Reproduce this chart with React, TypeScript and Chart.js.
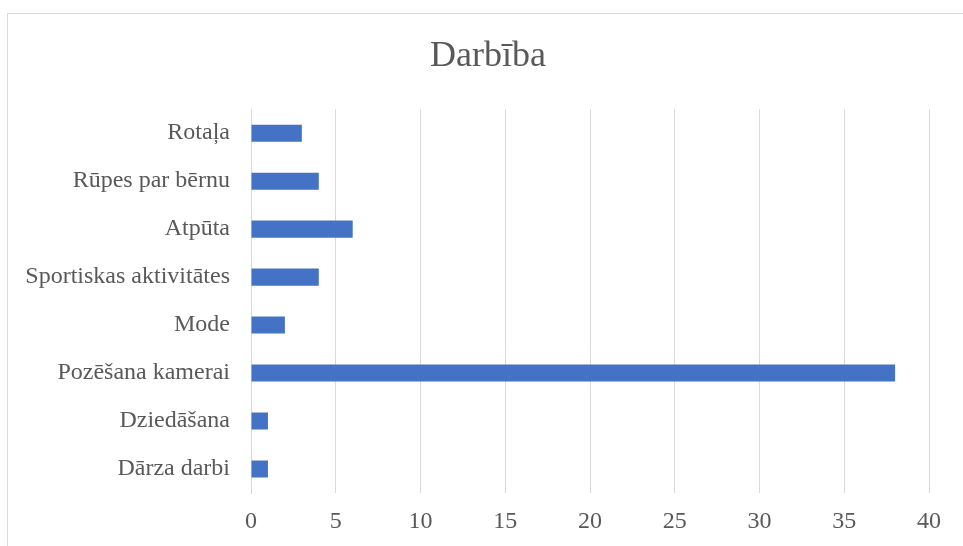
import React, { useEffect, useRef } from "react";
import { Chart, registerables } from "chart.js";

Chart.register(...registerables);

const categories = [
  "Rotaļa",
  "Rūpes par bērnu",
  "Atpūta",
  "Sportiskas aktivitātes",
  "Mode",
  "Pozēšana kamerai",
  "Dziedāšana",
  "Dārza darbi",
];
const values = [3, 4, 6, 4, 2, 38, 1, 1];
const xMin = 0;
const xMax = 40;
const xStep = 5;
const titleText = "Darbība";

const FONT = '"Liberation Serif", "Times New Roman", Times, serif';
const TEXT = "#595959";
const GRID = "#d9d9d9";

export default function App() {
  const ref = useRef<HTMLCanvasElement | null>(null);

  useEffect(() => {
    if (!ref.current) return;
    const chart = new Chart(ref.current, {
      type: "bar",
      data: {
        labels: categories,
        datasets: [
          {
            label: titleText,
            data: values,
            backgroundColor: "#4472C4",
            borderWidth: 0,
            barPercentage: 0.355,
            categoryPercentage: 1,
            yAxisID: "y",
          },
        ],
      },
      options: {
        indexAxis: "y",
        responsive: false,
        animation: false,
        layout: { padding: 0 },
        plugins: {
          legend: { display: false },
          tooltip: { enabled: false },
          title: {
            display: true,
            text: titleText,
            color: TEXT,
            font: { family: FONT, size: 36, weight: "normal", lineHeight: 1.2 },
            padding: { top: 21, bottom: 31 },
          },
        },
        scales: {
          x: {
            min: xMin,
            max: xMax,
            ticks: {
              stepSize: xStep,
              color: TEXT,
              font: { family: FONT, size: 24 },
              padding: 14,
            },
            grid: { color: GRID, lineWidth: 1, drawTicks: false },
            border: { display: false },
            afterFit: (scale: any) => {
              scale.height = 53;
            },
          },
          y: {
            ticks: {
              color: TEXT,
              font: { family: FONT, size: 24 },
              padding: 21,
            },
            grid: { display: false, drawTicks: false },
            border: { display: true, color: GRID, width: 1 },
            afterFit: (scale: any) => {
              scale.width = 243;
            },
          },
          yRight: {
            axis: "y",
            type: "linear",
            position: "right",
            display: true,
            ticks: { display: false },
            grid: { display: false, drawTicks: false },
            border: { display: false },
            afterFit: (scale: any) => {
              scale.width = 39;
            },
          },
        },
      },
    });
    return () => chart.destroy();
  }, []);

  return (
    <div
      style={{
        position: "fixed",
        left: 7,
        top: 13,
        width: 970,
        height: 545,
        border: "1px solid #d9d9d9",
        background: "#ffffff",
      }}
    >
      <canvas
        ref={ref}
        width={960}
        height={532}
        style={{ position: "absolute", left: 0, top: 0, width: 960, height: 532 }}
      />
    </div>
  );
}
